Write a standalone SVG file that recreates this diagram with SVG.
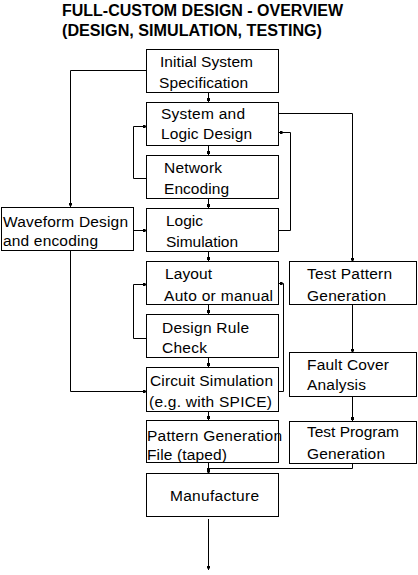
<svg xmlns="http://www.w3.org/2000/svg" width="418" height="575" viewBox="0 0 418 575">
<style>
.box rect{fill:#fff;stroke:#000;stroke-width:1}
text{font-family:"Liberation Sans",Arial,sans-serif;font-size:15.5px;fill:#000}
.title{font-weight:bold;font-size:16px}
#connectors path{fill:none;stroke:#000;stroke-width:1}
</style>
<defs>
<marker id="dot" markerUnits="userSpaceOnUse" markerWidth="3" markerHeight="3" viewBox="0 0 3 3" refX="4.5" refY="1.5" orient="auto">
<rect x="0" y="0" width="3" height="3" fill="#000"/>
</marker>
</defs>
<rect width="418" height="575" fill="#fff"/>
<g id="title">
<text class="title" x="62" y="16" textLength="281" lengthAdjust="spacingAndGlyphs">FULL-CUSTOM DESIGN - OVERVIEW</text>
<text class="title" x="62" y="36" textLength="260" lengthAdjust="spacingAndGlyphs">(DESIGN, SIMULATION, TESTING)</text>
</g>
<g id="connectors">
<path d="M208.5 92.5V102.5" marker-end="url(#dot)"/>
<path d="M208.5 145.5V155.5" marker-end="url(#dot)"/>
<path d="M208.5 198.5V208.5" marker-end="url(#dot)"/>
<path d="M208.5 251.5V261.5" marker-end="url(#dot)"/>
<path d="M208.5 304.5V314.5" marker-end="url(#dot)"/>
<path d="M208.5 357.5V367.5" marker-end="url(#dot)"/>
<path d="M208.5 411.5V420.5" marker-end="url(#dot)"/>
<path d="M208.5 462.5V474" marker-end="url(#dot)"/>
<path d="M208.5 519V570" marker-end="url(#dot)"/>
<path d="M146.5 70.5H70.5V207" marker-end="url(#dot)"/>
<path d="M278.5 113.5H352.5V262" marker-end="url(#dot)"/>
<path d="M146.5 178.5H133.5V126.5H147" marker-end="url(#dot)"/>
<path d="M278.5 230.5H290.5V132.5H278" marker-end="url(#dot)"/>
<path d="M133.5 230.5H147" marker-end="url(#dot)"/>
<path d="M146.5 338.5H133.5V284.5H147" marker-end="url(#dot)"/>
<path d="M278.5 391.5H283.5V283.5H278" marker-end="url(#dot)"/>
<path d="M70.5 250.5V391.5H147" marker-end="url(#dot)"/>
<path d="M352.5 304.5V353" marker-end="url(#dot)"/>
<path d="M352.5 396.5V421.5" marker-end="url(#dot)"/>
<path d="M352.5 463.5V468.5H208.5V472" marker-end="url(#dot)"/>
</g>
<g id="n1" class="box"><rect x="146.5" y="49.5" width="132" height="43"/>
<text x="160" y="67" textLength="93" lengthAdjust="spacing">Initial System</text>
<text x="159" y="88" textLength="89" lengthAdjust="spacing">Specification</text></g>
<g id="n2" class="box"><rect x="146.5" y="102.5" width="132" height="43"/>
<text x="161" y="119" textLength="84" lengthAdjust="spacing">System and</text>
<text x="161" y="139" textLength="91" lengthAdjust="spacing">Logic Design</text></g>
<g id="n3" class="box"><rect x="146.5" y="155.5" width="132" height="43"/>
<text x="164" y="173" textLength="58" lengthAdjust="spacing">Network</text>
<text x="164" y="194" textLength="65" lengthAdjust="spacing">Encoding</text></g>
<g id="n4" class="box"><rect x="146.5" y="208.5" width="132" height="43"/>
<text x="166" y="226" textLength="37" lengthAdjust="spacing">Logic</text>
<text x="166" y="246.5" textLength="72" lengthAdjust="spacing">Simulation</text></g>
<g id="n5" class="box"><rect x="146.5" y="261.5" width="132" height="43"/>
<text x="165" y="279" textLength="47" lengthAdjust="spacing">Layout</text>
<text x="164" y="300.5" textLength="109" lengthAdjust="spacing">Auto or manual</text></g>
<g id="n6" class="box"><rect x="146.5" y="314.5" width="132" height="43"/>
<text x="162" y="333" textLength="87" lengthAdjust="spacing">Design Rule</text>
<text x="162" y="353" textLength="45" lengthAdjust="spacing">Check</text></g>
<g id="n7" class="box"><rect x="146.5" y="367.5" width="132" height="44"/>
<text x="150" y="386" textLength="123" lengthAdjust="spacing">Circuit Simulation</text>
<text x="149" y="406.5" textLength="123" lengthAdjust="spacing">(e.g. with SPICE)</text></g>
<g id="n8" class="box"><rect x="146.5" y="420.5" width="132" height="42"/>
<text x="147" y="441" textLength="135" lengthAdjust="spacing">Pattern Generation</text>
<text x="147" y="460" textLength="80" lengthAdjust="spacing">File (taped)</text></g>
<g id="n9" class="box"><rect x="146.5" y="473.5" width="132" height="43"/>
<text x="170" y="501" textLength="89" lengthAdjust="spacing">Manufacture</text></g>
<g id="n10" class="box"><rect x="1.5" y="207.5" width="132" height="43"/>
<text x="3" y="226.5" textLength="125" lengthAdjust="spacing">Waveform Design</text>
<text x="3" y="246" textLength="95" lengthAdjust="spacing">and encoding</text></g>
<g id="n11" class="box"><rect x="289.5" y="261.5" width="127" height="43"/>
<text x="307" y="279" textLength="85" lengthAdjust="spacing">Test Pattern</text>
<text x="307" y="300.5" textLength="79" lengthAdjust="spacing">Generation</text></g>
<g id="n12" class="box"><rect x="289.5" y="352.5" width="127" height="44"/>
<text x="307" y="369.5" textLength="82" lengthAdjust="spacing">Fault Cover</text>
<text x="307" y="390" textLength="59" lengthAdjust="spacing">Analysis</text></g>
<g id="n13" class="box"><rect x="289.5" y="421.5" width="127" height="42"/>
<text x="307" y="437" textLength="92" lengthAdjust="spacing">Test Program</text>
<text x="307" y="458.5" textLength="78" lengthAdjust="spacing">Generation</text></g>
</svg>
